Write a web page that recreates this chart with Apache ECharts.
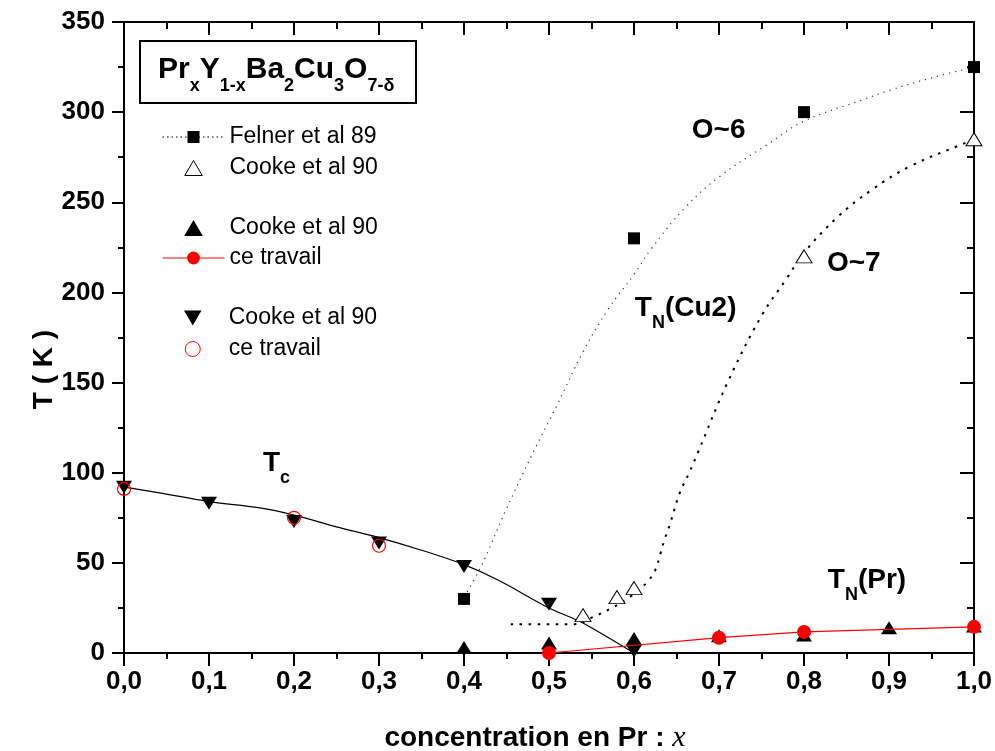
<!DOCTYPE html>
<html>
<head>
<meta charset="utf-8">
<script src="https://cdn.jsdelivr.net/npm/echarts@6/dist/echarts.min.js"></script>
<style>
  html, body { margin: 0; padding: 0; background: #fff; }
  #chart { width: 995px; height: 751px; }
</style>
</head>
<body>
<div id="chart"></div>
<script>
const FONT = '"Liberation Sans", Arial, Helvetica, sans-serif';

// Axis tick labels
const xTickLabels = ['0,0', '0,1', '0,2', '0,3', '0,4', '0,5', '0,6', '0,7', '0,8', '0,9', '1,0'];
const yTickLabels = ['0', '50', '100', '150', '200', '250', '300', '350'];

// T_N(Cu2) – Felner et al 89 (squares)
const felnerX = [0.4, 0.6, 0.8, 1.0];
const felnerT = [30, 230, 300, 325];

// T_N(Cu2) – Cooke et al 90 (open triangles)
const cookeCuX = [0.54, 0.58, 0.60, 0.80, 1.0];
const cookeCuT = [21, 31, 36, 220, 285];

// T_N(Pr) – Cooke et al 90 (filled triangles)
const cookePrX = [0.4, 0.5, 0.6, 0.7, 0.8, 0.9, 1.0];
const cookePrT = [3, 5.5, 8, 9.5, 10, 14, 15];

// Tc – Cooke et al 90 (down triangles)
const cookeTcX = [0.0, 0.1, 0.2, 0.3, 0.4, 0.5, 0.6];
const cookeTcT = [92, 83, 73, 61, 48, 27, 1];

// T_N(Pr) – ce travail (filled red circles, joined)
const ceTravailPrX = [0.5, 0.7, 0.8, 1.0];
const ceTravailPrT = [0, 8.5, 11.7, 14.5];

// Tc – ce travail (open red circles)
const ceTravailTcX = [0.0, 0.2, 0.3];
const ceTravailTcT = [91, 75, 59.5];

// Guide curve, oxygen content ~6
const o6X = [0.40, 0.42, 0.45, 0.48, 0.51, 0.54, 0.57, 0.60, 0.62, 0.66, 0.70, 0.76, 0.80, 0.87, 0.90, 0.95, 1.0];
const o6T = [31, 48, 80, 110, 138, 167, 191, 210, 224, 247, 264, 283, 295, 307, 312, 319, 325];

// Guide curve, oxygen content ~7
const o7X = [0.455, 0.53, 0.552, 0.576, 0.595, 0.607, 0.615, 0.625, 0.631, 0.636, 0.642, 0.654, 0.665, 0.675, 0.71, 0.75, 0.78, 0.80, 0.84, 0.88, 0.925, 0.99, 1.0];
const o7T = [16, 16, 20, 25.5, 31, 36, 39, 46, 55, 63, 71, 89, 100, 111, 150, 187, 208, 222, 242, 257, 270, 283, 285];

// Guide curve for Tc
const tcX = [0.0, 0.04, 0.1, 0.16, 0.2, 0.25, 0.3, 0.35, 0.4, 0.44, 0.5, 0.534, 0.55, 0.6];
const tcT = [92, 89, 84, 80.5, 76.5, 70, 64, 57, 49, 40.5, 25, 18, 14, 0];

// Text annotations, anchored (top-left) in data coordinates
const annotations = [
  { text: '{b|O~6}', at: [0.668, 297.9] },
  { text: '{b|O~7}', at: [0.827, 224.1] },
  { text: '{b|T}{s|N}{b|(Cu2)}', at: [0.601, 199.1] },
  { text: '{b|T}{s|c}', at: [0.1635, 113.2] },
  { text: '{b|T}{s|N}{b|(Pr)}', at: [0.828, 48.3] }
];

const pairs = (xs, ys) => xs.map((x, i) => [x, ys[i]]);
const shortName = name => name.split(' · ')[0];

const TRI_UP = 'path://M7,0 L14,12 L0,12 Z';
const TRI_DOWN = 'path://M0,0 L14,0 L7,12 Z';

const axisLine = { onZero: false, lineStyle: { color: '#000', width: 2 } };
const tickStyle = { color: '#000', width: 2 };
const labelStyle = { fontFamily: FONT, fontSize: 26, fontWeight: 'bold', color: '#000' };

const legendBase = {
  orient: 'vertical',
  left: 162,
  itemWidth: 62,
  padding: 0,
  selectedMode: false,
  formatter: shortName,
  textStyle: { fontFamily: FONT, fontSize: 23, color: '#000' },
  itemStyle: { borderWidth: 1 },
  lineStyle: { width: 1 }
};

const chart = echarts.init(document.getElementById('chart'), null, { renderer: 'canvas' });

const option = {
  animation: false,
  backgroundColor: '#fff',
  grid: { left: 124, right: 21, top: 22, bottom: 98, containLabel: false, outerBoundsMode: 'none' },
  xAxis: [
    {
      type: 'value', min: 0, max: 1, interval: 0.1, position: 'bottom',
      axisLine: axisLine,
      axisTick: { length: 13, lineStyle: tickStyle },
      minorTick: { show: true, splitNumber: 2, length: 6, lineStyle: tickStyle },
      splitLine: { show: false },
      axisLabel: Object.assign({ margin: 16, formatter: v => xTickLabels[Math.round(v * 10)] }, labelStyle),
      name: 'concentration en Pr : {i|x}',
      nameLocation: 'middle',
      nameGap: 70,
      nameMoveOverlap: false,
      nameTextStyle: {
        fontFamily: FONT, fontSize: 28, fontWeight: 'bold', color: '#000',
        padding: [0, 28, 0, 0],
        rich: { i: { fontFamily: '"Liberation Serif", "Times New Roman", serif', fontStyle: 'italic', fontWeight: 'normal', fontSize: 30, color: '#000' } }
      }
    },
    {
      type: 'value', min: 0, max: 1, interval: 0.1, position: 'top',
      axisLine: axisLine,
      axisTick: { inside: true, length: 13, lineStyle: tickStyle },
      minorTick: { show: true, splitNumber: 2, length: 7, lineStyle: tickStyle },
      splitLine: { show: false },
      axisLabel: { show: false }
    }
  ],
  yAxis: [
    {
      type: 'value', min: 0, max: 350, interval: 50, position: 'left',
      axisLine: axisLine,
      axisTick: { length: 12, lineStyle: tickStyle },
      minorTick: { show: true, splitNumber: 2, length: 6, lineStyle: tickStyle },
      splitLine: { show: false },
      axisLabel: Object.assign({ margin: 19, formatter: v => yTickLabels[Math.round(v / 50)] }, labelStyle),
      name: 'T ( K )',
      nameLocation: 'middle',
      nameRotate: 90,
      nameGap: 66,
      nameMoveOverlap: false,
      nameTextStyle: { fontFamily: FONT, fontSize: 28, fontWeight: 'bold', color: '#000', padding: [0, 64, 0, 0] }
    },
    {
      type: 'value', min: 0, max: 350, interval: 50, position: 'right',
      axisLine: axisLine,
      axisTick: { inside: true, length: 14, lineStyle: tickStyle },
      minorTick: { show: true, splitNumber: 2, length: 7, lineStyle: tickStyle },
      splitLine: { show: false },
      axisLabel: { show: false }
    }
  ],
  legend: [
    Object.assign({}, legendBase, {
      top: 125.5, itemHeight: 15, itemGap: 8,
      data: [
        { name: 'Felner et al 89', lineStyle: { opacity: 1, width: 1, type: [1.5, 3], color: '#000' } },
        'Cooke et al 90 · TN(Cu2)'
      ]
    }),
    Object.assign({}, legendBase, {
      top: 216.5, itemHeight: 16, itemGap: 7,
      data: ['Cooke et al 90 · TN(Pr)', 'ce travail · TN(Pr)']
    }),
    // symbol-only entries: the group box starts at the symbol, not at the icon slot
    Object.assign({}, legendBase, {
      left: 184, top: 306.5, itemHeight: 15, itemGap: 8,
      data: ['Cooke et al 90 · Tc', 'ce travail · Tc']
    })
  ],
  series: [
    {
      name: 'O~6 guide', type: 'line', silent: true, smooth: 0.4, symbol: 'none',
      data: pairs(o6X, o6T),
      lineStyle: { color: '#333', width: 1.2, type: [1.2, 5], cap: 'butt' }, z: 1
    },
    {
      name: 'O~7 guide', type: 'line', silent: true, smooth: 0.4, symbol: 'none',
      data: pairs(o7X, o7T),
      lineStyle: { color: '#000', width: 2, type: [2.5, 6.5], cap: 'butt' }, z: 1
    },
    {
      name: 'Tc guide', type: 'line', silent: true, smooth: 0.4, symbol: 'none',
      data: pairs(tcX, tcT),
      lineStyle: { color: '#000', width: 1.2 }, z: 1
    },
    {
      name: 'Felner et al 89', type: 'line', symbol: 'rect', symbolSize: 12, showAllSymbol: true,
      data: pairs(felnerX, felnerT),
      itemStyle: { color: '#000', opacity: 1 }, lineStyle: { opacity: 0, color: '#000' }, z: 3
    },
    {
      name: 'Cooke et al 90 · TN(Cu2)', type: 'scatter', symbol: TRI_UP, symbolSize: [16, 13],
      data: pairs(cookeCuX, cookeCuT),
      itemStyle: { color: '#fff', borderColor: '#000', borderWidth: 1, opacity: 1 }, z: 3
    },
    {
      name: 'Cooke et al 90 · TN(Pr)', type: 'scatter', symbol: TRI_UP, symbolSize: [16, 13],
      data: pairs(cookePrX, cookePrT),
      itemStyle: { color: '#000', opacity: 1 }, z: 3
    },
    {
      name: 'Cooke et al 90 · Tc', type: 'scatter', symbol: TRI_DOWN, symbolSize: [16, 13],
      data: pairs(cookeTcX, cookeTcT),
      itemStyle: { color: '#000', opacity: 1 }, z: 3
    },
    {
      name: 'ce travail · TN(Pr)', type: 'line', symbol: 'circle', symbolSize: 14, showAllSymbol: true,
      data: pairs(ceTravailPrX, ceTravailPrT),
      itemStyle: { color: '#ff0000', opacity: 1 }, lineStyle: { color: '#ff0000', width: 1.2 }, z: 4
    },
    {
      name: 'ce travail · Tc', type: 'scatter', symbol: 'circle', symbolSize: 13,
      data: pairs(ceTravailTcX, ceTravailTcT),
      itemStyle: { color: 'rgba(255,255,255,0)', borderColor: '#ff0000', borderWidth: 1.2, opacity: 1 }, z: 4
    }
  ]
};

chart.setOption(option);

// Compound formula in a framed box, and the curve annotations
const annRich = {
  b: { fontFamily: FONT, fontSize: 28, fontWeight: 'bold', color: '#000', verticalAlign: 'top' },
  s: { fontFamily: FONT, fontSize: 18, fontWeight: 'bold', color: '#000', verticalAlign: 'top', padding: [20, 0, 0, 0] }
};
const titleRich = {
  b: { fontFamily: FONT, fontSize: 30, fontWeight: 'bold', color: '#000', verticalAlign: 'top' },
  s: { fontFamily: FONT, fontSize: 18, fontWeight: 'bold', color: '#000', verticalAlign: 'top', padding: [22, 0, 0, 0] }
};

const graphics = [
  {
    type: 'rect', shape: { x: 140, y: 41, width: 276, height: 62 },
    style: { fill: '#fff', stroke: '#000', lineWidth: 2 }, z: 10
  },
  {
    type: 'text', x: 158, y: 55, z: 11,
    style: {
      text: '{b|Pr}{s|x}{b|Y}{s|1-x}{b|Ba}{s|2}{b|Cu}{s|3}{b|O}{s|7-δ}',
      rich: titleRich, align: 'left', verticalAlign: 'top'
    }
  }
];
annotations.forEach(a => {
  const p = chart.convertToPixel({ xAxisIndex: 0, yAxisIndex: 0 }, a.at);
  graphics.push({
    type: 'text', x: p[0], y: p[1], z: 11,
    style: { text: a.text, rich: annRich, align: 'left', verticalAlign: 'top' }
  });
});
chart.setOption({ graphic: graphics });
</script>
</body>
</html>
